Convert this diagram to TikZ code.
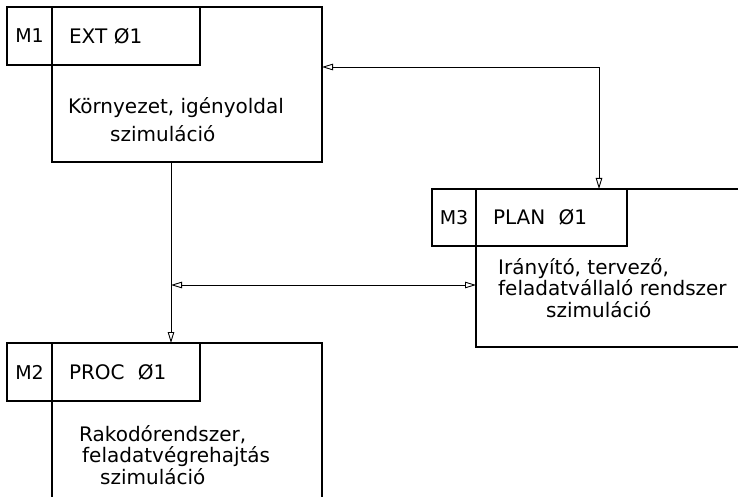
\documentclass[tikz,border=0pt]{standalone}
\usepackage{fontspec}
\setmainfont{DejaVu Sans}
\usetikzlibrary{arrows.meta}
\tikzset{
  frame/.style={draw, line width=1.3pt, inner sep=0pt, outer sep=0pt, anchor=north west},
  tagbox/.style={frame, minimum width=45pt, minimum height=58pt, font=\fontsize{19}{20}\selectfont},
  titlebox/.style={frame, minimum height=58pt, text width=114pt, align=left, inner xsep=17pt, font=\fontsize{20}{20}\selectfont},
  modul/.style={frame, minimum width=270pt, minimum height=155pt},
  descr/.style={anchor=north west, align=left, inner sep=0pt, font=\fontsize{20}{21.5}\selectfont},
  link/.style={line width=0.9pt, >={Triangle[open,length=11pt,width=6.5pt]}}
}

\begin{document}
\begin{tikzpicture}[x=1pt,y=-1pt]
\useasboundingbox (0,0) rectangle (738,497);
\clip (0,0) rectangle (738,497);

% M1
\node[modul] (m1) at (52,7) {};
\node[tagbox] (m1tag) at (7,7) {M1};
\node[titlebox] (m1title) at (52,7) {EXT Ø1};
\node[descr] (m1text) at (68,97) {Környezet, igényoldal\\[7pt]\hspace*{42pt}szimuláció};

% M2
\node[modul, minimum height=180pt] (m2) at (52,343) {};
\node[tagbox] (m2tag) at (7,343) {M2};
\node[titlebox] (m2title) at (52,343) {PROC \ Ø1};
\node[descr] (m2text) at (79,425) {Rakodórendszer,\\\hspace*{3pt}feladatvégrehajtás\\\hspace*{21pt}szimuláció};

% M3
\node[modul, minimum width=290pt, minimum height=158pt] (m3) at (476,189) {};
\node[tagbox, minimum width=44pt, minimum height=57pt] (m3tag) at (432,189) {M3};
\node[titlebox, text width=117pt, minimum height=57pt] (m3title) at (476,189) {PLAN \ Ø1};
\node[descr] (m3text) at (498,258) {Irányító, tervező,\\feladatvállaló rendszer\\\hspace*{48pt}szimuláció};

% connections
\coordinate (fork) at (171,285);
\coordinate (bend) at (599,67);
\draw[link,->] (fork |- m1.south) -- (fork |- m2.north);
\draw[link,<->] (fork) -- (fork -| m3.west);
\draw[link,<->] (bend -| m1.east) -- (bend) -- (bend |- m3.north);

\end{tikzpicture}
\end{document}
